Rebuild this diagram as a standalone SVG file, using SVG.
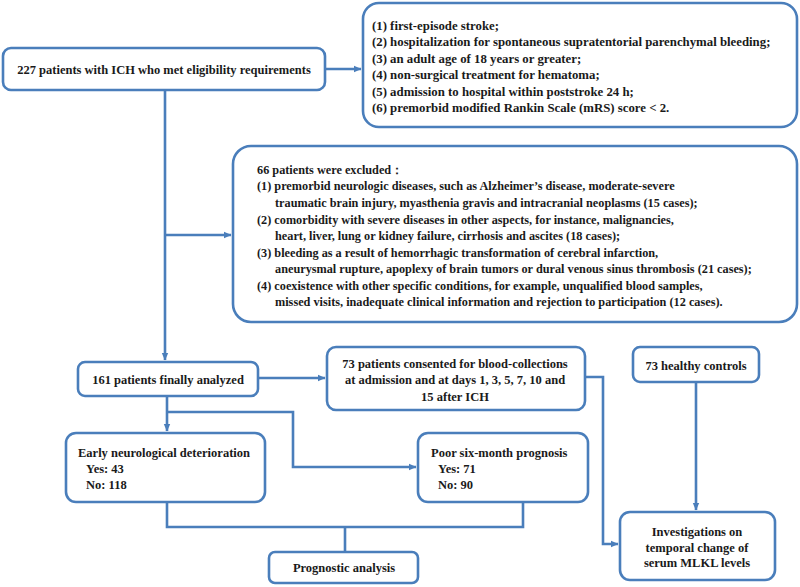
<svg xmlns="http://www.w3.org/2000/svg" width="800" height="587" viewBox="0 0 800 587">
<defs>
<marker id="ah" markerWidth="8" markerHeight="8" refX="7" refY="4" orient="auto" markerUnits="userSpaceOnUse">
<path d="M0,0.8 L7.5,4 L0,7.2 Z" fill="#4a7ebb"/>
</marker>
<style>
.box{fill:#ffffff;stroke:#4a7ebb;stroke-width:2.6}
.ln{fill:none;stroke:#4a7ebb;stroke-width:2.6}
text{font-family:"Liberation Serif","Times New Roman",serif;font-weight:bold;font-size:12.5px;fill:#1a1a1a}
.c{text-anchor:middle}
.b2 text{font-size:12.8px}
.b3 text{font-size:12.25px}
</style>
</defs>
<rect width="800" height="587" fill="#ffffff"/>
<g id="connectors">
<path class="ln" d="M325,69 H361" marker-end="url(#ah)"/>
<path class="ln" d="M165,90 V360" marker-end="url(#ah)"/>
<path class="ln" d="M165,235 H231" marker-end="url(#ah)"/>
<path class="ln" d="M258,378 H325" marker-end="url(#ah)"/>
<path class="ln" d="M167,396 V431" marker-end="url(#ah)"/>
<path class="ln" d="M167,412 H293 V467 H416" marker-end="url(#ah)"/>
<path class="ln" d="M167,502 V527 H523 V502"/>
<path class="ln" d="M345,527 V552"/>
<path class="ln" d="M585,377 H603 V544 H618" marker-end="url(#ah)"/>
<path class="ln" d="M696,382 V510" marker-end="url(#ah)"/>
</g>
<g id="n-eligible">
<rect class="box" x="3" y="48" width="322" height="42" rx="8"/>
<text class="c" x="164" y="73.5">227 patients with ICH who met eligibility requirements</text>
</g>
<g id="n-criteria" class="b2">
<rect class="box" x="363" y="3" width="434" height="124" rx="16"/>
<text x="372" y="29.5">(1) first-episode stroke;</text>
<text x="372" y="46">(2) hospitalization for spontaneous supratentorial parenchymal bleeding;</text>
<text x="372" y="62.5">(3) an adult age of 18 years or greater;</text>
<text x="372" y="78.5">(4) non-surgical treatment for hematoma;</text>
<text x="372" y="95.5">(5) admission to hospital within poststroke 24 h;</text>
<text x="372" y="111.5">(6) premorbid modified Rankin Scale (mRS) score &lt; 2.</text>
</g>
<g id="n-excluded" class="b3">
<rect class="box" x="233" y="146" width="564" height="176" rx="18"/>
<text x="257" y="173.5">66 patients were excluded：</text>
<text x="257" y="190">(1) premorbid neurologic diseases, such as Alzheimer’s disease, moderate-severe</text>
<text x="275" y="207">traumatic brain injury, myasthenia gravis and intracranial neoplasms (15 cases);</text>
<text x="257" y="223.5">(2) comorbidity with severe diseases in other aspects, for instance, malignancies,</text>
<text x="275" y="240">heart, liver, lung or kidney failure, cirrhosis and ascites (18 cases);</text>
<text x="257" y="256.5">(3) bleeding as a result of hemorrhagic transformation of cerebral infarction,</text>
<text x="275" y="273">aneurysmal rupture, apoplexy of brain tumors or dural venous sinus thrombosis (21 cases);</text>
<text x="257" y="289.5">(4) coexistence with other specific conditions, for example, unqualified blood samples,</text>
<text x="275" y="306">missed visits, inadequate clinical information and rejection to participation (12 cases).</text>
</g>
<g id="n-analyzed">
<rect class="box" x="78" y="362" width="180" height="34" rx="7"/>
<text class="c" x="168" y="383.5">161 patients finally analyzed</text>
</g>
<g id="n-consented">
<rect class="box" x="327" y="347" width="258" height="63" rx="9"/>
<text class="c" x="455" y="367.5">73 patients consented for blood-collections</text>
<text class="c" x="455" y="384">at admission and at days 1, 3, 5, 7, 10 and</text>
<text class="c" x="455" y="400.5">15 after ICH</text>
</g>
<g id="n-healthy">
<rect class="box" x="633" y="347" width="126" height="35" rx="7"/>
<text class="c" x="696" y="369.5">73 healthy controls</text>
</g>
<g id="n-end">
<rect class="box" x="66" y="433" width="199" height="69" rx="10"/>
<text x="78" y="456.5">Early neurological deterioration</text>
<text x="86" y="472.5">Yes: 43</text>
<text x="86" y="488.5">No: 118</text>
</g>
<g id="n-poor">
<rect class="box" x="418" y="433" width="170" height="69" rx="10"/>
<text x="431" y="456.5">Poor six-month prognosis</text>
<text x="438" y="472.5">Yes: 71</text>
<text x="438" y="488.5">No: 90</text>
</g>
<g id="n-prognostic">
<rect class="box" x="269" y="552" width="149" height="31" rx="6"/>
<text class="c" x="344" y="572">Prognostic analysis</text>
</g>
<g id="n-invest">
<rect class="box" x="620" y="512" width="155" height="68" rx="10"/>
<text class="c" x="697" y="535.5">Investigations on</text>
<text class="c" x="697" y="551.5">temporal change of</text>
<text class="c" x="697" y="567">serum MLKL levels</text>
</g>
</svg>
